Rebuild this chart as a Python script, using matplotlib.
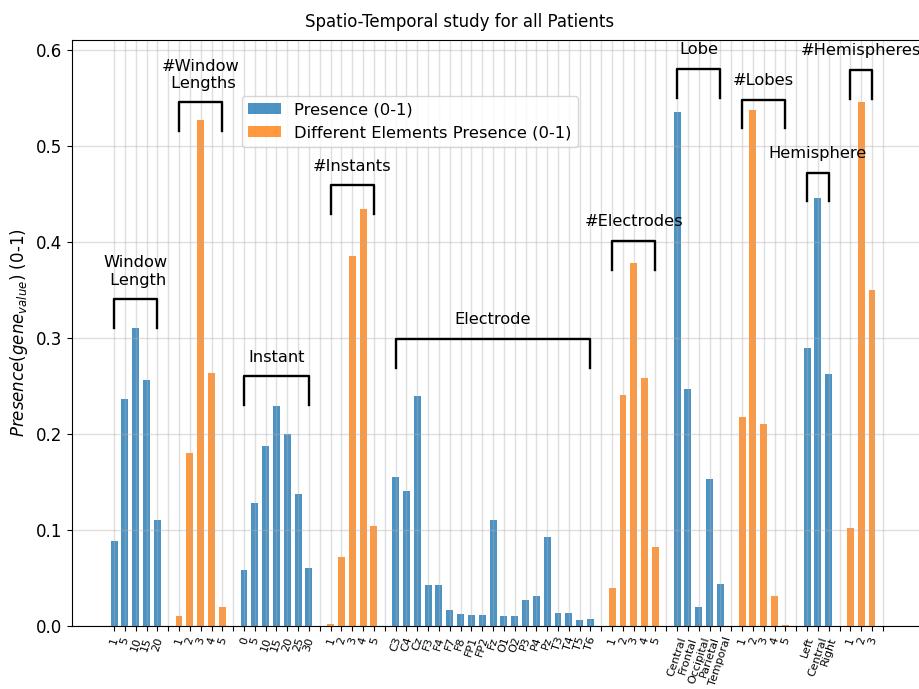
import numpy as np
import matplotlib
matplotlib.use("Agg")
import matplotlib.pyplot as plt

# values
window_length_labels = ['1', '5', '10', '15', '20']
window_length_vals = [0.089, 0.236, 0.310, 0.256, 0.110]

n_window_labels = ['1', '2', '3', '4', '5']
n_window_vals = [0.010, 0.180, 0.527, 0.263, 0.020]

instant_labels = ['0', '5', '10', '15', '20', '25', '30']
instant_vals = [0.058, 0.128, 0.187, 0.229, 0.200, 0.137, 0.060]

n_instant_labels = ['1', '2', '3', '4', '5']
n_instant_vals = [0.002, 0.072, 0.385, 0.434, 0.104]

electrode_labels = ['C3', 'C4', 'Cz', 'F3', 'F4', 'F7', 'F8', 'FP1', 'FP2', 'Fz',
                    'O1', 'O2', 'P3', 'P4', 'Pz', 'T3', 'T4', 'T5', 'T6']
electrode_vals = [0.155, 0.141, 0.239, 0.043, 0.043, 0.017, 0.012, 0.011, 0.011, 0.110,
                  0.010, 0.010, 0.027, 0.031, 0.093, 0.014, 0.014, 0.006, 0.007]

n_electrode_labels = ['1', '2', '3', '4', '5']
n_electrode_vals = [0.040, 0.241, 0.378, 0.258, 0.082]

lobe_labels = ['Central', 'Frontal', 'Occipital', 'Parietal', 'Temporal']
lobe_vals = [0.535, 0.247, 0.020, 0.153, 0.044]

n_lobe_labels = ['1', '2', '3', '4', '5']
n_lobe_vals = [0.218, 0.537, 0.210, 0.031, 0.001]

hemisphere_labels = ['Left', 'Central', 'Right']
hemisphere_vals = [0.289, 0.446, 0.262]

n_hemisphere_labels = ['1', '2', '3']
n_hemisphere_vals = [0.102, 0.546, 0.350]

# group title and bracket top for each group
group_titles = ['Window\n Length', '#Window\n Lengths', 'Instant', '#Instants', 'Electrode',
                '#Electrodes', 'Lobe', '#Lobes', 'Hemisphere', '#Hemispheres']
bracket_tops = [0.34, 0.545, 0.26, 0.459, 0.299, 0.401, 0.580, 0.548, 0.472, 0.579]

blue = '#1f77b4'
orange = '#ff7f0e'

groups = [
    (window_length_labels, window_length_vals, blue),
    (n_window_labels, n_window_vals, orange),
    (instant_labels, instant_vals, blue),
    (n_instant_labels, n_instant_vals, orange),
    (electrode_labels, electrode_vals, blue),
    (n_electrode_labels, n_electrode_vals, orange),
    (lobe_labels, lobe_vals, blue),
    (n_lobe_labels, n_lobe_vals, orange),
    (hemisphere_labels, hemisphere_vals, blue),
    (n_hemisphere_labels, n_hemisphere_vals, orange),
]

fig = plt.figure(figsize=(9.2, 6.89), dpi=100)
ax = fig.add_axes([0.0783, 0.0914, 0.927, 0.8505])

tick_pos = []
tick_lab = []
pos = 0
seen = set()
for (labels, vals, color), title, top in zip(groups, group_titles, bracket_tops):
    x = np.arange(pos, pos + len(labels))
    lab = None
    if color not in seen:
        lab = 'Presence (0-1)' if color == blue else 'Different Elements Presence (0-1)'
        seen.add(color)
    ax.bar(x, vals, width=0.64, color=color, alpha=0.8, label=lab)
    # bracket over the group
    ax.plot([x[0], x[0], x[-1], x[-1]], [top - 0.03, top, top, top - 0.03],
            color='k', lw=1.7)
    ax.text((x[0] + x[-1]) / 2, top + 0.012, title, ha='center', va='bottom',
            fontsize=11.7)
    tick_pos += list(x) + [x[-1] + 1]
    tick_lab += list(labels) + ['']
    pos = x[-1] + 2

ax.set_xticks(tick_pos)
ax.set_xticklabels(tick_lab, rotation=72, fontsize=8)
ax.set_xlim(-3.88, 74.88)
ax.set_ylim(0, 0.61)
ax.tick_params(axis='y', labelsize=12)
ax.grid(True, color='#b0b0b0', alpha=0.4, lw=1.0)
ax.set_ylabel('$Presence(gene_{value})$ (0-1)', fontsize=12)

ax.legend(loc='upper left', bbox_to_anchor=(0.199, 0.905), borderaxespad=0,
          fontsize=11.8)

fig.text(0.5, 1 - 22 / 689, 'Spatio-Temporal study for all Patients',
         ha='center', va='center', fontsize=12)

fig.savefig('out.png', dpi=100)
